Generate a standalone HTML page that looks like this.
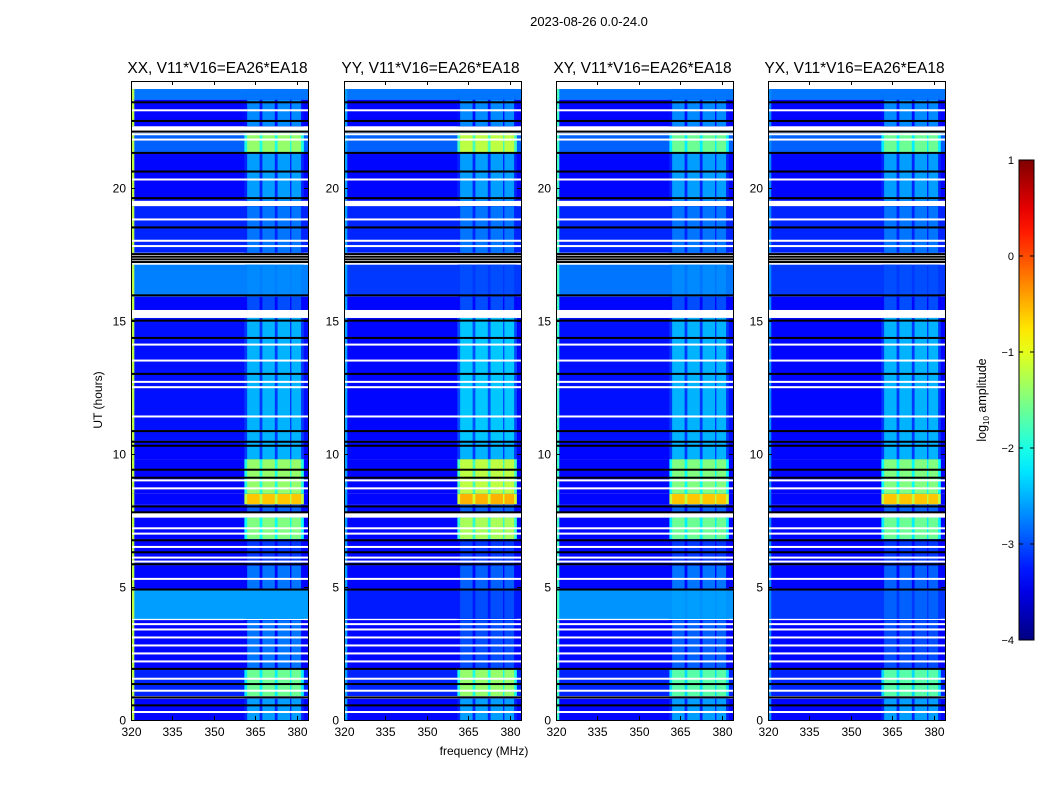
<!DOCTYPE html>
<html><head><meta charset="utf-8"><style>
body{margin:0;background:#fff;width:1050px;height:800px;overflow:hidden;font-family:"Liberation Sans",sans-serif}
svg text{font-family:"Liberation Sans",sans-serif}
</style></head><body>
<svg id="chart" width="1050" height="800" xmlns="http://www.w3.org/2000/svg"></svg>
<script>
const panelTitles=["XX, V11*V16=EA26*EA18","YY, V11*V16=EA26*EA18","XY, V11*V16=EA26*EA18","YX, V11*V16=EA26*EA18"];
const segStart=[0,0.9,1.95,3.8,4.9,5.8,6.8,7.8,8.1,8.5,9.8,10.5,15.4,15.9,17.55,19.5,21.3,22.3,23.3];
const segEnd=[0.8,1.9,3.75,4.9,5.8,6.8,7.6,8.1,8.5,9.8,10.5,15.1,15.9,17.1,19.3,21.3,22.05,23.3,23.7];
const bgXX=[-3.35,-3.2,-3.35,-2.6,-3.35,-3.35,-3.35,-3.35,-3.35,-3.35,-3.35,-3.3,-3.35,-2.75,-3.2,-3.35,-2.9,-3.35,-2.8];
const bgYY=[-3.35,-3.2,-3.35,-3.25,-3.35,-3.35,-3.35,-3.35,-3.35,-3.35,-3.35,-3.35,-3.35,-3.1,-3.2,-3.35,-2.9,-3.35,-2.8];
const bgXY=[-3.35,-3.2,-3.35,-2.65,-3.35,-3.35,-3.35,-3.35,-3.35,-3.35,-3.35,-3.3,-3.35,-2.8,-3.2,-3.35,-2.9,-3.35,-2.8];
const bgYX=[-3.35,-3.2,-3.35,-3.1,-3.35,-3.35,-3.35,-3.35,-3.35,-3.35,-3.35,-3.35,-3.35,-3.1,-3.2,-3.35,-2.9,-3.35,-2.8];
const bandXX=[-2.6,-1.6,-2.8,-2.6,-2.8,-3.1,-1.5,-2.9,-0.6,-1.4,-2.5,-2.5,-3.0,-2.7,-2.8,-2.6,-1.4,-2.7,-2.8];
const bandYY=[-2.6,-1.4,-3.0,-3.0,-2.9,-3.1,-1.3,-2.9,-0.5,-1.2,-2.5,-2.4,-3.0,-3.0,-2.8,-2.6,-1.2,-2.7,-2.8];
const bandXY=[-2.6,-1.7,-2.9,-2.6,-2.8,-3.1,-1.6,-2.9,-0.6,-1.5,-2.5,-2.5,-3.0,-2.7,-2.8,-2.6,-1.6,-2.7,-2.8];
const bandYX=[-2.6,-1.7,-3.0,-2.9,-2.9,-3.1,-1.6,-2.9,-0.6,-1.5,-2.5,-2.5,-3.0,-3.0,-2.8,-2.6,-1.6,-2.7,-2.8];
const edgeLevel=[-1.2,-2.6,-1.8,-2.7];
const bandStart=[362,367.5,373,378];
const bandEnd=[366.5,372,377.5,381.5];
const blackLines=[0.55,0.85,1.35,1.92,4.9,5.85,6.3,6.75,7.8,8.02,9.1,9.4,10.3,10.45,10.85,13.0,14.35,15.0,15.95,17.2,17.3,17.4,17.5,18.5,19.6,20.6,21.3,22.1,22.5,23.2];
const whiteLines=[0.3,1.1,1.55,2.2,2.5,2.8,3.1,3.4,3.6,5.3,5.95,6.1,6.5,7.0,7.2,8.7,9.0,11.4,12.5,12.7,13.5,14.1,17.8,18.0,18.8,20.3,21.8,22.0,22.9];
const xTicks=[320,335,350,365,380];
const yTicks=[0,5,10,15,20];
const cbTicks=[1,0,-1,-2,-3,-4];
const cbLabels=["1","0","\u22121","\u22122","\u22123","\u22124"];

const bgs=[bgXX,bgYY,bgXY,bgYX], bands=[bandXX,bandYY,bandXY,bandYX];
const panelX=[131,344,556,768], PW=177, PT=81, PB=720;
const NS="http://www.w3.org/2000/svg", svg=document.getElementById('chart');
function el(t,a,p){const e=document.createElementNS(NS,t);for(const k in a)e.setAttribute(k,a[k]);(p||svg).appendChild(e);return e;}
function jet(v){const x=Math.max(0,Math.min(1,(v+4)/5));const c=f=>Math.round(255*Math.max(0,Math.min(1,f)));
 return `rgb(${c(1.5-Math.abs(4*x-3))},${c(1.5-Math.abs(4*x-2))},${c(1.5-Math.abs(4*x-1))})`;}
const yS=t=>PB-(t/24)*(PB-PT);
function xS(i,f){return panelX[i]+(f-320)/64*PW;}

const ttl=el('text',{x:589,y:26,'text-anchor':'middle','font-size':13});ttl.textContent="2023-08-26 0.0-24.0";



for(let p=0;p<4;p++){
 const g=el('g',{});
 
 
 for(let s=0;s<segStart.length;s++){
  const y0=yS(segEnd[s]),y1=yS(segStart[s]);
  const r=el('rect',{x:xS(p,320),y:y0,width:PW,height:y1-y0,fill:jet(bgs[p][s])},g);
  
  
  const lr=el('rect',{x:xS(p,361),y:y0,width:xS(p,382.5)-xS(p,361),height:y1-y0,fill:jet(Math.max(bgs[p][s],bands[p][s]-0.6))},g);
  
  
  for(let b=0;b<bandStart.length;b++){
   const br=el('rect',{x:xS(p,bandStart[b]),y:y0,width:xS(p,bandEnd[b])-xS(p,bandStart[b]),height:y1-y0,fill:jet(bands[p][s])},g);
   
   
  }
  const er=el('rect',{x:xS(p,320),y:y0,width:xS(p,321.2)-xS(p,320),height:y1-y0,fill:jet(Math.max(bgs[p][s],edgeLevel[p]))},g);
  
  
 }
 for(const t of whiteLines){const l=el('rect',{x:xS(p,320),y:yS(t)-1,width:PW,height:2,fill:'#fff'},g);
  
  }
 for(const t of blackLines){const l=el('rect',{x:xS(p,320),y:yS(t)-1,width:PW,height:2,fill:'#000'},g);
  
  }
 const fr=el('rect',{x:panelX[p]+0.5,y:PT+0.5,width:PW,height:PB-PT,fill:'none',stroke:'#000','stroke-width':1},g);
 
 
 const tt=el('text',{x:panelX[p]+PW/2-2,y:73,'text-anchor':'middle','font-size':15.5},g);tt.textContent=panelTitles[p];
 
 
 for(const f of xTicks){const x=Math.round(xS(p,f))+0.5;
  el('line',{x1:x,x2:x,y1:PB,y2:PB-4,stroke:'#000'},g);el('line',{x1:x,x2:x,y1:PT,y2:PT+4,stroke:'#000'},g);
  const tx=el('text',{x:x,y:PB+16,'text-anchor':'middle','font-size':12},g);tx.textContent=f;
  
  }
 for(const t of yTicks){const y=Math.round(yS(t))+0.5;
  el('line',{x1:panelX[p],x2:panelX[p]+4,y1:y,y2:y,stroke:'#000'},g);el('line',{x1:panelX[p]+PW,x2:panelX[p]+PW-4,y1:y,y2:y,stroke:'#000'},g);
  const ty=el('text',{x:panelX[p]-5,y:y+4,'text-anchor':'end','font-size':12},g);ty.textContent=t;
  
  }
}
const xl=el('text',{x:484,y:755,'text-anchor':'middle','font-size':12});xl.textContent="frequency (MHz)";


const yl=el('text',{x:0,y:0,'text-anchor':'middle','font-size':12,transform:'translate(102,400) rotate(-90)'});yl.textContent="UT (hours)";



const defs=el('defs',{});const lg=el('linearGradient',{id:'jetg',x1:0,y1:1,x2:0,y2:0},defs);
for(let i=0;i<=20;i++){el('stop',{offset:i/20,'stop-color':jet(-4+5*i/20)},lg);}
const cbTop=160,cbBot=640,cbX=1019,cbW=15;
const cb=el('rect',{x:cbX,y:cbTop,width:cbW,height:cbBot-cbTop,fill:'url(#jetg)',stroke:'#000'});


const cy=v=>cbBot-(v+4)/5*(cbBot-cbTop);
cbTicks.forEach((v,i)=>{const y=cy(v);
 el('line',{x1:cbX,x2:cbX+4,y1:y,y2:y,stroke:'#000'});el('line',{x1:cbX+cbW,x2:cbX+cbW-4,y1:y,y2:y,stroke:'#000'});
 const t=el('text',{x:1014,y:y+4,'text-anchor':'end','font-size':11});t.textContent=cbLabels[i];
 
 });
const cl=el('text',{x:0,y:0,'text-anchor':'middle','font-size':12.5,transform:'translate(986,400) rotate(-90)'});
cl.innerHTML='log<tspan font-size="8" dy="3">10</tspan><tspan dy="-3"> amplitude</tspan>';


</script>
</body></html>
